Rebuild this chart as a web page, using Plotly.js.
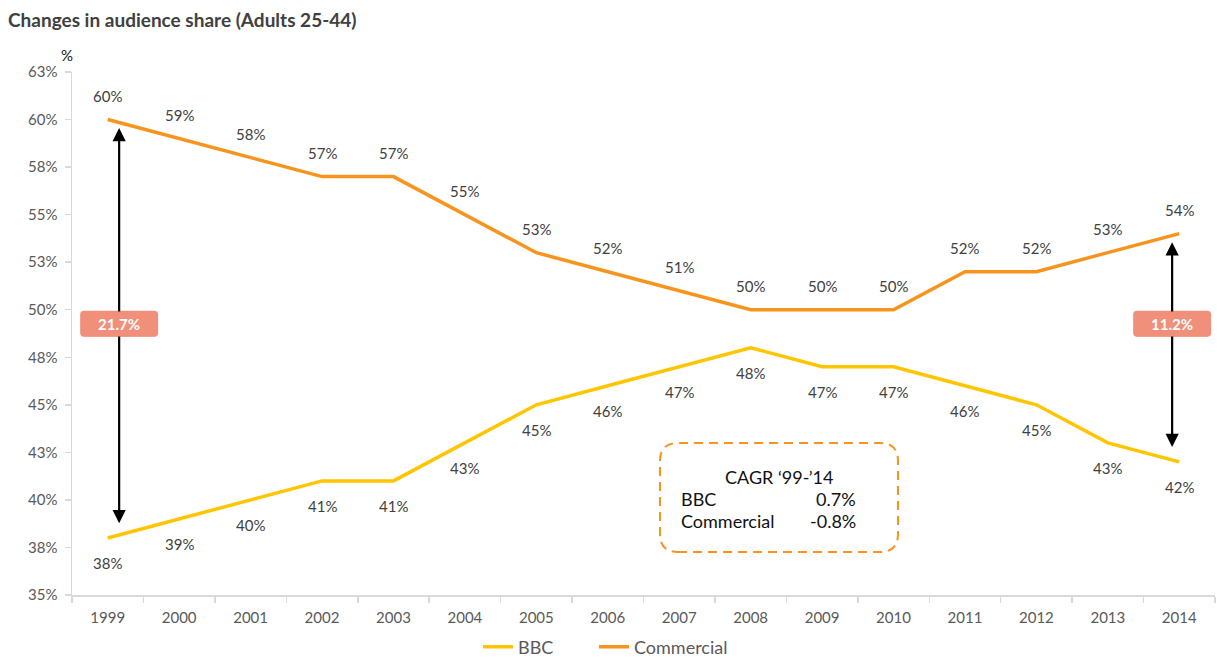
<!DOCTYPE html>
<html>
<head>
<meta charset="utf-8">
<script src="https://cdn.plot.ly/plotly-3.0.1.min.js"></script>
<style>
  html, body { margin: 0; padding: 0; background: #fff; }
  #chart { width: 1217px; height: 658px; }
</style>
</head>
<body>
<div id="chart"></div>
<script>
// Audience share, adults 25-44, by year (percent)
const years = ['1999','2000','2001','2002','2003','2004','2005','2006','2007','2008','2009','2010','2011','2012','2013','2014'];
const bbcShare = [38, 39, 40, 41, 41, 43, 45, 46, 47, 48, 47, 47, 46, 45, 43, 42];
const commercialShare = [60, 59, 58, 57, 57, 55, 53, 52, 51, 50, 50, 50, 52, 52, 53, 54];

// Y axis ticks every 2.5 points, labelled as whole percentages
const yTickVals = [35, 37.5, 40, 42.5, 45, 47.5, 50, 52.5, 55, 57.5, 60, 62.5];
const yTickText = ['35%','38%','40%','43%','45%','48%','50%','53%','55%','58%','60%','63%'];

// Gap call-outs and CAGR summary
const gapLabels = ['21.7%', '11.2%'];
const cagrTitle = 'CAGR \u201899-\u201914';
const cagrSeries = ['BBC', 'Commercial'];
const cagrValues = ['0.7%', '-0.8%'];

const ORANGE = '#F7941D';
const YELLOW = '#FFC600';
const SALMON = '#F0907A';
const FONT = 'Lato, "Open Sans", sans-serif';

const W = 1217, H = 658;
const M = { l: 72, r: 2, t: 72, b: 63 };

// one slot per year on a linear axis; tick marks sit on the slot boundaries
const xIdx = years.map((_, i) => i);
const boundaries = years.map((_, i) => i - 0.5).concat([years.length - 0.5]);

const traces = [
  {
    x: xIdx, y: bbcShare, name: 'BBC', type: 'scatter', mode: 'lines',
    line: { color: YELLOW, width: 3.5 }, hoverinfo: 'skip', legend: 'legend'
  },
  {
    x: xIdx, y: commercialShare, name: 'Commercial', type: 'scatter', mode: 'lines',
    line: { color: ORANGE, width: 3.5 }, hoverinfo: 'skip', legend: 'legend2'
  }
];

const annotations = [];
const shapes = [];
const labelFont = { family: FONT, size: 15, color: '#404040' };

// Value labels: above the commercial line, below the BBC line
xIdx.forEach((xi, i) => {
  annotations.push({
    x: xi, y: commercialShare[i], xref: 'x', yref: 'y',
    text: Math.round(commercialShare[i]) + '%', showarrow: false, yshift: 24,
    font: labelFont
  });
  annotations.push({
    x: xi, y: bbcShare[i], xref: 'x', yref: 'y',
    text: Math.round(bbcShare[i]) + '%', showarrow: false, yshift: -25,
    font: labelFont
  });
});

// Double-headed gap arrows at the first and last year
const gapIdx = [0, years.length - 1];
const gapXOffset = [0.16, -0.1];
const gapLabelY = 49.26;
const roundRect = (w, h, r) =>
  `M ${-w + r} ${-h} L ${w - r} ${-h} Q ${w} ${-h} ${w} ${-h + r} L ${w} ${h - r} Q ${w} ${h} ${w - r} ${h} ` +
  `L ${-w + r} ${h} Q ${-w} ${h} ${-w} ${h - r} L ${-w} ${-h + r} Q ${-w} ${-h} ${-w + r} ${-h} Z`;

gapIdx.forEach((idx, k) => {
  const xPos = idx + gapXOffset[k];
  annotations.push({
    x: xPos, y: commercialShare[idx] - 0.45, xref: 'x', yref: 'y',
    ax: xPos, ay: bbcShare[idx] + 0.7, axref: 'x', ayref: 'y',
    showarrow: true, arrowhead: 2, startarrowhead: 2, arrowside: 'end+start',
    arrowsize: 1.2, startarrowsize: 1.2, arrowwidth: 2.2, arrowcolor: '#000', text: ''
  });
  // rounded badge; the label's own background hides the arrow behind it
  shapes.push({
    type: 'path', xref: 'x', yref: 'y', xsizemode: 'pixel', ysizemode: 'pixel',
    xanchor: xPos, yanchor: gapLabelY, path: roundRect(39, 13, 4),
    fillcolor: SALMON, line: { width: 0 }, layer: 'above'
  });
  annotations.push({
    x: xPos, y: gapLabelY, xref: 'x', yref: 'y', text: '<b>' + gapLabels[k] + '</b>',
    showarrow: false, width: 70, height: 24, borderpad: 0, bgcolor: SALMON,
    font: { family: FONT, size: 15, color: '#fff' }
  });
});

// CAGR summary box (dashed, rounded)
const px = (v) => (v - M.l) / (W - M.l - M.r);
const py = (v) => (H - M.b - v) / (H - M.t - M.b);
shapes.push({
  type: 'path', xref: 'paper', yref: 'paper', xsizemode: 'pixel', ysizemode: 'pixel',
  xanchor: px(779), yanchor: py(497.5), path: roundRect(119, 54.5, 18),
  fillcolor: 'rgba(0,0,0,0)', line: { color: ORANGE, width: 2, dash: '9px,6px' }
});
const boxFont = { family: FONT, size: 18, color: '#111' };
annotations.push({
  x: px(779), y: py(477), xref: 'paper', yref: 'paper', text: cagrTitle,
  showarrow: false, xanchor: 'center', yanchor: 'middle', font: boxFont
});
cagrSeries.forEach((name, i) => {
  const yy = py(499 + i * 22);
  annotations.push({
    x: px(679), y: yy, xref: 'paper', yref: 'paper', text: name,
    showarrow: false, xanchor: 'left', yanchor: 'middle', font: boxFont
  });
  annotations.push({
    x: px(858), y: yy, xref: 'paper', yref: 'paper', text: cagrValues[i],
    showarrow: false, xanchor: 'right', yanchor: 'middle', font: boxFont
  });
});

// Unit marker above the y axis
annotations.push({
  x: px(67), y: py(55), xref: 'paper', yref: 'paper', text: '%', showarrow: false,
  xanchor: 'center', yanchor: 'middle',
  font: { family: FONT, size: 15, color: '#111' }
});

// the two series keys sit side by side under the axis
const legendBase = {
  orientation: 'h', xref: 'container', xanchor: 'left',
  yref: 'container', y: (H - 647) / H, yanchor: 'middle',
  font: { family: FONT, size: 18, color: '#595959' }, bgcolor: 'rgba(0,0,0,0)'
};

const layout = {
  width: W, height: H,
  margin: M,
  paper_bgcolor: '#fff', plot_bgcolor: '#fff',
  font: { family: FONT, color: '#595959' },
  title: {
    text: '<b>Changes in audience share (Adults 25-44)</b>',
    x: 8 / W, xref: 'container', xanchor: 'left',
    y: 1 - 20 / H, yref: 'container', yanchor: 'middle',
    font: { family: FONT, size: 19, color: '#404040' }
  },
  xaxis: {
    type: 'linear', range: [-0.5, years.length - 0.5],
    showgrid: false, zeroline: false,
    showline: true, linecolor: '#D9D9D9', linewidth: 1.5,
    tickmode: 'array', tickvals: xIdx, ticktext: years, ticks: '',
    minor: { tickmode: 'array', tickvals: boundaries, ticks: 'outside', ticklen: 6,
             tickcolor: '#D9D9D9', tickwidth: 1.5, showgrid: false },
    tickfont: { family: FONT, size: 15, color: '#595959' },
    ticklabelstandoff: 8, fixedrange: true
  },
  yaxis: {
    range: [35, 62.5], showgrid: false, zeroline: false,
    showline: true, linecolor: '#D9D9D9', linewidth: 1.5,
    ticks: 'outside', ticklen: 6, tickcolor: '#D9D9D9', tickwidth: 1.5,
    tickmode: 'array', tickvals: yTickVals, ticktext: yTickText,
    tickfont: { family: FONT, size: 15, color: '#595959' },
    ticklabelstandoff: 4, fixedrange: true
  },
  showlegend: true,
  legend: Object.assign({}, legendBase, { x: 478 / W }),
  legend2: Object.assign({}, legendBase, { x: 594 / W }),
  annotations: annotations,
  shapes: shapes
};

Plotly.newPlot('chart', traces, layout, { staticPlot: true, displayModeBar: false });
</script>
</body>
</html>
